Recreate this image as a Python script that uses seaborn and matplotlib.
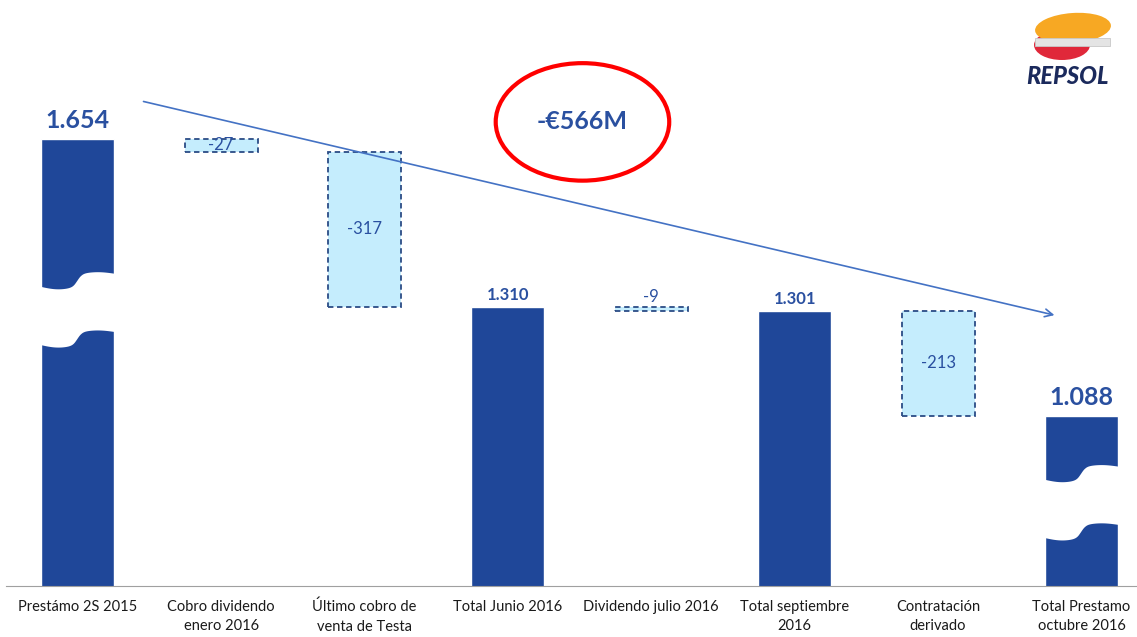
import numpy as np
import pandas as pd
import matplotlib.pyplot as plt
import seaborn as sns
from matplotlib.patches import Ellipse, Polygon, Rectangle

# datos del gráfico (millones de euros)
categories = ['Prestámo 2S 2015', 'Cobro dividendo\nenero 2016', 'Último cobro de\nventa de Testa',
              'Total Junio 2016', 'Dividendo julio 2016', 'Total septiembre\n2016',
              'Contratación\nderivado', 'Total Prestamo\noctubre 2016']
values = [1654, -27, -317, 1310, -9, 1301, -213, 1088]
is_total = [True, False, False, True, False, True, False, True]
value_labels = ['1.654', '-27', '-317', '1.310', '-9', '1.301', '-213', '1.088']
big_labels = ['1.654', '1.088']
# barras cortadas (inicio del corte, en unidades del eje)
breaks = {0: 1351, 7: 957}
total_change = '-€566M'

navy = '#1F4799'
light = '#C5EDFD'
text_blue = '#2A50A0'

sns.set_style('white')
plt.rcParams['font.family'] = ['Lato', 'DejaVu Sans']

fig = plt.figure(figsize=(11.37, 6.37), dpi=100)
ax = fig.add_axes([6 / 1137, 51 / 637, 1 - 6 / 1137, 1 - 51 / 637])

# totales con seaborn
df_tot = pd.DataFrame({'cat': [c for c, t in zip(categories, is_total) if t],
                       'val': [v for v, t in zip(values, is_total) if t]})
sns.barplot(data=df_tot, x='cat', y='val', order=categories, color=navy,
            saturation=1, width=0.51, ax=ax)

# variaciones flotantes
level = 0
bottoms = []
for v, t in zip(values, is_total):
    if t:
        level = v
        bottoms.append(0)
    else:
        level = level + v
        bottoms.append(level)
for i, (v, t) in enumerate(zip(values, is_total)):
    if not t:
        ax.bar(i, -v, bottom=bottoms[i], width=0.51, facecolor=light,
               edgecolor='#2B4C86', linestyle=(0, (3, 2)), linewidth=1.3, zorder=3)

ax.set_xlim(-0.5, 7.387)
ax.set_ylim(740, 1937)

# corte ondulado en barras grandes
gap = 119
step = 27
for i, y0 in breaks.items():
    xs = np.linspace(i - 0.3, i + 0.3, 80)
    t = (xs - (i - 0.255)) / 0.51
    rise = step * (0.5 + 0.5 * np.tanh((t - 0.5) / 0.06))
    dip = -5 * np.sin(np.pi * np.clip(t / 0.48, 0, 1))
    bump = 3 * np.sin(np.pi * np.clip((t - 0.55) / 0.45, 0, 1))
    top = y0 + rise + dip + bump
    bot = top - gap
    pts = np.column_stack([np.r_[xs, xs[::-1]], np.r_[top, bot[::-1]]])
    ax.add_patch(Polygon(pts, closed=True, facecolor='white', edgecolor='none', zorder=4))

# etiquetas de valores
for i, (v, t) in enumerate(zip(values, is_total)):
    lab = value_labels[i]
    if t:
        big = lab in big_labels
        ax.text(i, v + (14 if big else 8), lab, ha='center', va='bottom',
                fontsize=18 if big else 12, fontweight='bold', color=text_blue, zorder=5)
    else:
        top_y = bottoms[i] - v
        if abs(v) < 20:
            ax.text(i, top_y + 5, lab, ha='center', va='bottom', fontsize=12, color=text_blue, zorder=5)
        else:
            ax.text(i, bottoms[i] - v / 2, lab, ha='center', va='center', fontsize=12,
                    color=text_blue, zorder=5)

# flecha de tendencia
ax.annotate('', xy=(6.83, 1292), xytext=(0.44, 1731),
            arrowprops=dict(arrowstyle='->', color='#4472C4', lw=1.2, mutation_scale=14))

# elipse con la variación total
ax.add_patch(Ellipse((3.52, 1688), 1.21, 240, facecolor='none', edgecolor='#FF0000', lw=3, zorder=5))
ax.text(3.52, 1688, total_change, ha='center', va='center', fontsize=18, fontweight='bold',
        color=text_blue, zorder=6)

# ejes
sns.despine(ax=ax, left=True, top=True, right=True)
ax.spines['bottom'].set_color('#A0A0A0')
ax.set_yticks([])
ax.set_xlabel('')
ax.set_ylabel('')
ax.set_xticks(range(len(categories)))
ax.set_xticklabels(categories, fontsize=10.5, color='#1A1A1A', linespacing=1.5)
ax.tick_params(axis='x', which='major', length=0, pad=10)
ax.set_xticks(np.arange(0.5, len(categories) - 1, 1), minor=True)
ax.tick_params(axis='x', which='minor', length=5, color='#A0A0A0', direction='out')

# logo Repsol simplificado
lax = fig.add_axes([1010 / 1137, 1 - 92 / 637, 115 / 1137, 85 / 637])
lax.set_xlim(0, 115)
lax.set_ylim(0, 85)
lax.axis('off')
lax.add_patch(Ellipse((52, 47), 56, 30, facecolor='#E0283A', edgecolor='none'))
lax.add_patch(Ellipse((63, 64), 76, 30, angle=4, facecolor='#F7A823', edgecolor='none'))
lax.add_patch(Rectangle((0, 0), 115, 31, facecolor='white', edgecolor='none'))
lax.add_patch(Rectangle((25, 46), 75, 8, facecolor='#E4E4E4', edgecolor='#C8C8C8', lw=0.6))
lax.text(57, 15, 'REPSOL', ha='center', va='center', fontsize=17, fontweight='black',
         style='italic', color='#1B2A5C')

fig.savefig('out.png', dpi=100)
